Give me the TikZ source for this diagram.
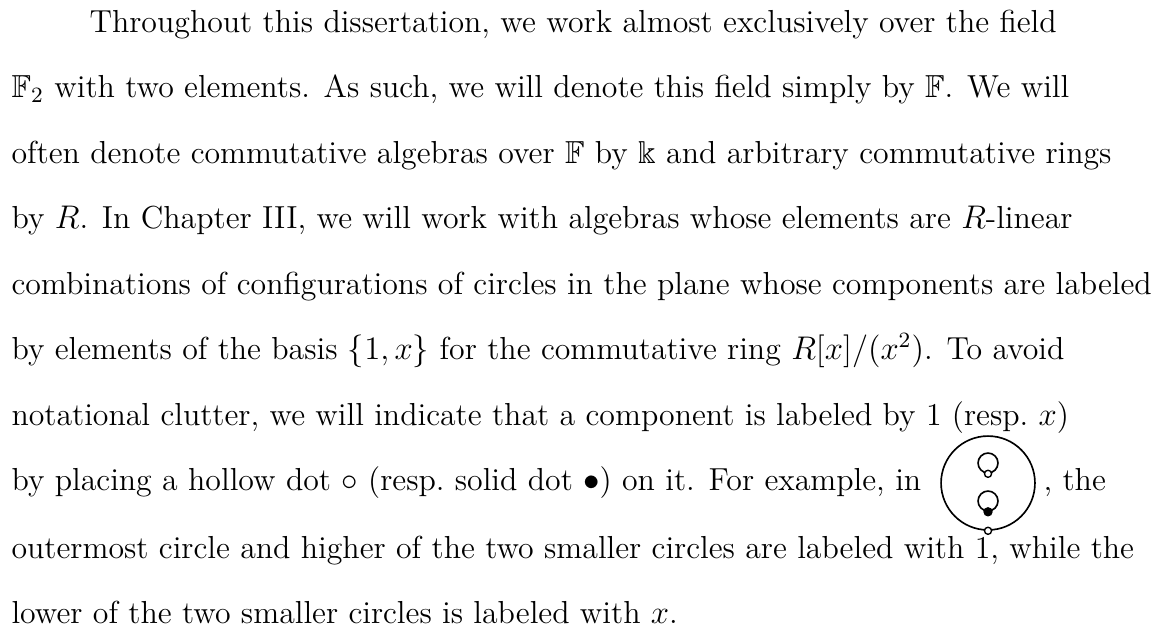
\documentclass[tikz,border=0pt]{standalone}
\usepackage{amssymb}
\begin{document}
\begin{tikzpicture}[x=0.3663pt,y=-0.3663pt,
  line/.style={anchor=base west, inner sep=0pt, font=\fontsize{11.66}{14}\selectfont},
  ring/.style={circle, draw, line width=0.6pt, inner sep=0pt, minimum size=#1},
  hdot/.style={circle, draw, fill=white, line width=0.5pt, inner sep=0pt, minimum size=2.6pt},
  sdot/.style={circle, draw, fill=black, line width=0.5pt, inner sep=0pt, minimum size=2.9pt}]
\useasboundingbox (0,0) rectangle (1156,630);
\node[line] (l1) at (89,32) {Throughout this dissertation, we work almost exclusively over the field};
\node[line] (l2) at (11,97.5) {$\mathbb{F}_2$ with two elements. As such, we will denote this field simply by $\mathbb{F}$. We will};
\node[line] (l3) at (11,163) {often denote commutative algebras over $\mathbb{F}$ by $\Bbbk$ and arbitrary commutative rings};
\node[line] (l4) at (11,228.5) {by $R$. In Chapter III, we will work with algebras whose elements are $R$-linear};
\node[line] (l5) at (11,294) {combinations of configurations of circles in the plane whose components are labeled};
\node[line] (l6) at (11,359.5) {by elements of the basis $\{1,x\}$ for the commutative ring $R[x]/(x^2)$. To avoid};
\node[line] (l7) at (11,425) {notational clutter, we will indicate that a component is labeled by 1 (resp.\ $x$)};
\node[line] (l8) at (11,490) {by placing a hollow dot $\circ$ (resp.\ solid dot $\bullet$) on it. For example, in};
\node[line] (l8b) at (1043,490) {, the};
\node[line] (l9) at (11,558) {outermost circle and higher of the two smaller circles are labeled with 1, while the};
\node[line] (l10) at (11,623) {lower of the two smaller circles is labeled with $x$.};
% inline figure
\node[ring=34.4pt] (outer) at (988,483) {};
\node[ring=7.3pt] (su) at (988,463) {};
\node[ring=7.3pt] (sl) at (988,501) {};
\node[hdot] (du) at (su.south) {};
\node[sdot] (dl) at (sl.south) {};
\node[hdot] (do) at (outer.south) {};
\end{tikzpicture}
\end{document}
